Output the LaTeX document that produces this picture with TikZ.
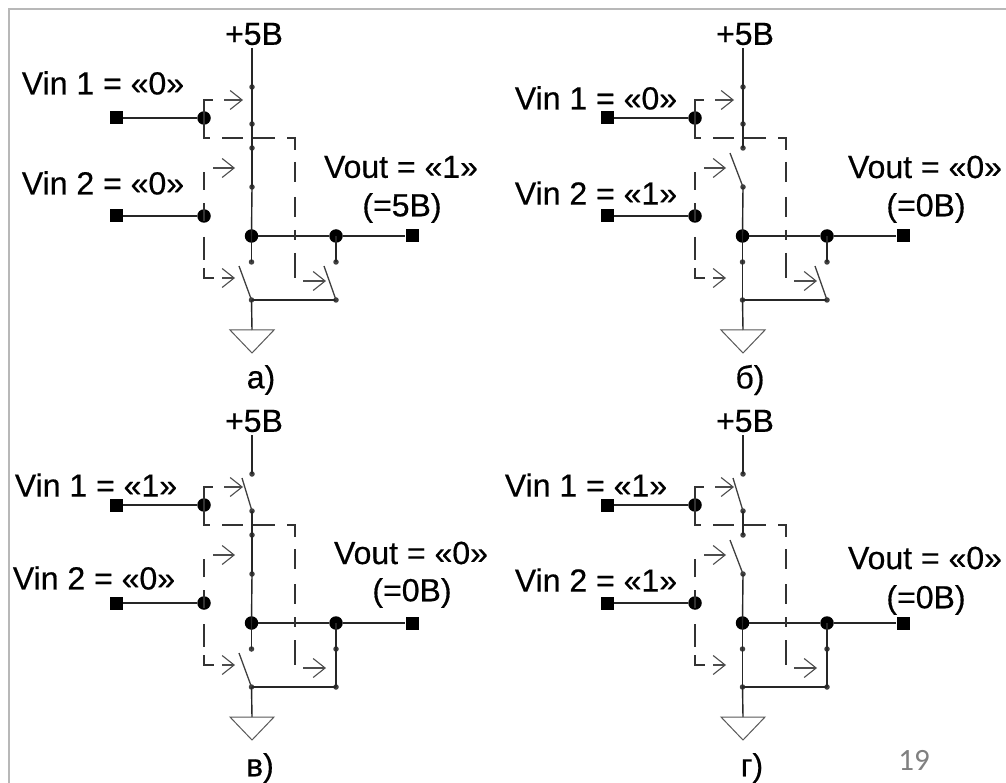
\documentclass[tikz,border=0pt]{standalone}
\usepackage{fontspec}
\setmainfont{Liberation Sans}[RawFeature={embolden=0.5}]
\newfontfamily\pagefont{Carlito}
\usetikzlibrary{arrows.meta}
\tikzset{
  wire/.style={line width=1.4pt,black!85},
  ctrl/.style={line width=1.4pt,black!80},
  arrowline/.style={line width=1.1pt,black!70,-{Straight Barb[length=12pt,width=19pt,line width=1.1pt]}},
  blade/.style={line width=1.3pt,black!75},
  term/.style={draw=none,fill=black,minimum size=13pt,inner sep=0pt},
  junct/.style={circle,fill=black,minimum size=13.5pt,inner sep=0pt},
  pin/.style={circle,fill=black!75,minimum size=5.5pt,inner sep=0pt},
  lbl/.style={font=\fontsize{32}{36}\selectfont,text=black,inner sep=0pt},
  gnd/.style={line width=1pt,black!65},
}
% #1 name, #2 dx, #3 dy, #4..#7: 1 = the switch is open, 0 = closed
\newcommand{\panel}[7]{%
\begin{scope}[shift={(#2,#3)}]
  \coordinate (#1top) at (252,48);
  \node[pin] (#1a) at (252,87) {};
  \node[pin] (#1b) at (252,124) {};
  \node[pin] (#1c) at (252,148) {};
  \node[pin] (#1d) at (252,187) {};
  \node[junct] (#1j) at (251.5,236) {};
  \node[junct] (#1k) at (336,236) {};
  \node[term] (#1o) at (412,236) {};
  \node[pin] (#1e) at (251.5,262) {};
  \node[pin] (#1f) at (336,262) {};
  \node[pin] (#1g) at (251.5,300) {};
  \node[pin] (#1h) at (336,300) {};
  \node[term] (#1i) at (116,118) {};
  \node[junct] (#1m) at (204,118) {};
  \node[term] (#1n) at (116,216) {};
  \node[junct] (#1p) at (204,216) {};
  \coordinate (#1gt) at (252,330);
  \draw[wire] (#1top) -- (#1a.center);
  \draw[wire] (#1b.center) -- (#1c.center);
  \draw[wire] (#1d.center) -- (#1j.center);
  \draw[wire] (#1j.center) -- (#1e.center);
  \draw[wire] (#1j) -- (#1k);
  \draw[wire] (#1k) -- (#1o);
  \draw[wire] (#1k.center) -- (#1f.center);
  \draw[wire] (#1g.center) -- (#1h.center);
  \draw[wire] (#1g.center) -- (#1gt);
  \draw[wire] (#1i) -- (#1m);
  \draw[wire] (#1n) -- (#1p);
  \ifnum#4=1 \draw[blade] (#1b.center) -- (242,91);\else\draw[wire] (#1a.center) -- (#1b.center);\fi
  \ifnum#5=1 \draw[blade] (#1d.center) -- (239,153);\else\draw[wire] (#1c.center) -- (#1d.center);\fi
  \ifnum#6=1 \draw[blade] (#1g.center) -- (239,266);\else\draw[wire] (#1e.center) -- (#1g.center);\fi
  \ifnum#7=1 \draw[blade] (#1h.center) -- (324,266);\else\draw[wire] (#1f.center) -- (#1h.center);\fi
  \draw[ctrl] (#1m.center) -- (204,100) -- (213,100);
  \draw[ctrl,dash pattern=on 26pt off 12pt on 21pt off 10pt on 22pt off 12pt on 20pt off 12pt on 20pt off 15pt on 20pt off 13pt on 10pt off 13pt on 25pt] (#1m.center) -- (204,138) -- (295,138) -- (295,278);
  \draw[ctrl,dash pattern=on 13pt off 13pt on 18pt] (#1p.center) -- (204,172);
  \draw[ctrl,dash pattern=on 5pt off 16pt on 23pt off 8pt on 20pt] (#1p.center) -- (204,278) -- (214,278);
  \draw[arrowline] (224,100) -- (243,100);
  \draw[arrowline] (213,168) -- (235,168);
  \draw[arrowline] (222,278) -- (235,278);
  \draw[arrowline] (303,281) -- (326,281);
  \draw[gnd] (#1gt) ++(-22,0) -- ++(44,0) -- ++(-22,23) -- cycle;
\end{scope}}
\begin{document}
\begin{tikzpicture}[x=1pt,y=-1pt]
\useasboundingbox (0,0) rectangle (1006,783);
\fill[white] (0,0) rectangle (1006,783);
\draw[black!28,line width=1.5pt] (9,783) -- (9,9) -- (1006,9);
\panel{A}{0}{0}{0}{0}{1}{1}
\panel{B}{491}{0}{0}{1}{0}{1}
\panel{C}{0}{387}{1}{0}{1}{0}
\panel{D}{491}{387}{1}{1}{0}{0}
\node[lbl] (t1) at (254,34) {+5В};
\node[lbl] (t2) at (745,34) {+5В};
\node[lbl] (t3) at (254,421) {+5В};
\node[lbl] (t4) at (745,421) {+5В};
\node[lbl] (v1) at (103,83) {Vin 1 = «0»};
\node[lbl] (v2) at (103,183) {Vin 2 = «0»};
\node[lbl] (v3) at (596,98) {Vin 1 = «0»};
\node[lbl] (v4) at (596,193) {Vin 2 = «1»};
\node[lbl] (v5) at (96,485) {Vin 1 = «1»};
\node[lbl] (v6) at (94,578) {Vin 2 = «0»};
\node[lbl] (v7) at (586,485) {Vin 1 = «1»};
\node[lbl] (v8) at (596,580) {Vin 2 = «1»};
\node[lbl] (o1) at (401,167) {Vout = «1»};
\node[lbl] (p1) at (402,208) {(=5В)};
\node[lbl] (o2) at (925,167) {Vout = «0»};
\node[lbl] (p2) at (926,208) {(=0В)};
\node[lbl] (o3) at (411,553) {Vout = «0»};
\node[lbl] (p3) at (412,593) {(=0В)};
\node[lbl] (o4) at (925,558) {Vout = «0»};
\node[lbl] (p4) at (926,600) {(=0В)};
\node[lbl] (c1) at (261,380) {а)};
\node[lbl] (c2) at (750,380) {б)};
\node[lbl] (c3) at (260,768) {в)};
\node[lbl] (c4) at (752,768) {г)};
\node[inner sep=0pt,text=black!50,font=\pagefont\fontsize{31}{34}\selectfont] (pg) at (914,760) {19};
\end{tikzpicture}
\end{document}
